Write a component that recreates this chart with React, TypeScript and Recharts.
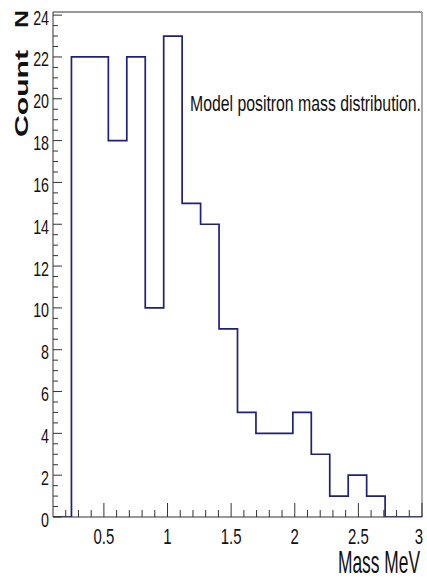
import React from "react";
import { LineChart, Line, XAxis, YAxis, ReferenceLine } from "recharts";

// Histogram binning: 20 equal bins between 0.1 and 3.0 MeV
const binEdges = [
  0.1, 0.245, 0.39, 0.535, 0.68, 0.825, 0.97, 1.115, 1.26, 1.405, 1.55,
  1.695, 1.84, 1.985, 2.13, 2.275, 2.42, 2.565, 2.71, 2.855, 3.0,
];
const binCounts = [0, 22, 22, 18, 22, 10, 23, 15, 14, 9, 5, 4, 4, 5, 3, 1, 2, 1, 0, 0];

const xMajorTicks = [0.5, 1, 1.5, 2, 2.5, 3];
const xMajorLabels = ["0.5", "1", "1.5", "2", "2.5", "3"];
const yMajorTicks = [0, 2, 4, 6, 8, 10, 12, 14, 16, 18, 20, 22, 24];
const yMajorLabels = ["0", "2", "4", "6", "8", "10", "12", "14", "16", "18", "20", "22", "24"];

const X_MIN = 0.1;
const X_MAX = 3;
const Y_MAX = 24.15;

const W = 427;
const H = 580;
const PLOT_LEFT = 53;
const PLOT_TOP = 12;
const PLOT_RIGHT = 422;
const PLOT_BOTTOM = 517;

const FONT = "'Liberation Sans', Arial, Helvetica, sans-serif";
const LINE_COLOR = "#1f1f7c";
const AXIS_COLOR = "#333";

// one point per bin edge; the last edge closes the outline at the final bin's level
const histData = binEdges.map((edge, i) => ({
  mass: edge,
  count: i < binCounts.length ? binCounts[i] : binCounts[binCounts.length - 1],
}));

// minor tick grids: every 0.1 on x, every 0.5 on y
const xMinorTicks: number[] = [];
for (let i = 2; i <= 30; i++) xMinorTicks.push(i / 10);
const yMinorTicks: number[] = [];
for (let i = 0; i <= 48; i++) yMinorTicks.push(i / 2);

const near = (a: number, b: number) => Math.abs(a - b) < 1e-6;

const XTick = (props: any) => {
  const { x, payload } = props;
  const v = payload.value as number;
  const idx = xMajorTicks.findIndex((t) => near(t, v));
  const major = idx >= 0;
  const last = idx === xMajorTicks.length - 1;
  return (
    <g>
      <line x1={x} x2={x} y1={PLOT_BOTTOM} y2={PLOT_BOTTOM - (major ? 14 : 7)} stroke={AXIS_COLOR} strokeWidth={1} />
      {major && (
        <text
          transform={`translate(${last ? x + 1 : x},544) scale(0.68,1)`}
          textAnchor={last ? "end" : "middle"}
          fontSize={22}
          fontFamily={FONT}
          fill="#111"
        >
          {xMajorLabels[idx]}
        </text>
      )}
    </g>
  );
};

const YTick = (props: any) => {
  const { y, payload } = props;
  const v = payload.value as number;
  const idx = yMajorTicks.findIndex((t) => near(t, v));
  const major = idx >= 0;
  return (
    <g>
      <line x1={PLOT_LEFT} x2={PLOT_LEFT + (major ? 9 : 5)} y1={y} y2={y} stroke={AXIS_COLOR} strokeWidth={1} />
      {major && (
        <text
          transform={`translate(49,${y + 9.5}) scale(0.68,1)`}
          textAnchor="end"
          fontSize={21}
          fontFamily={FONT}
          fill="#111"
        >
          {yMajorLabels[idx]}
        </text>
      )}
    </g>
  );
};

export default function App() {
  return (
    <div style={{ position: "absolute", left: 0, top: 0, width: W, height: H, background: "#fff" }}>
      <LineChart
        width={W}
        height={H}
        data={histData}
        margin={{ top: PLOT_TOP, right: W - PLOT_RIGHT, bottom: H - PLOT_BOTTOM - 30, left: PLOT_LEFT - 45 }}
      >
        <XAxis
          type="number"
          dataKey="mass"
          domain={[X_MIN, X_MAX]}
          allowDataOverflow
          ticks={xMinorTicks}
          interval={0}
          tick={XTick}
          tickLine={false}
          axisLine={{ stroke: AXIS_COLOR, strokeWidth: 1 }}
          height={30}
        />
        <YAxis
          type="number"
          domain={[0, Y_MAX]}
          allowDataOverflow
          ticks={yMinorTicks}
          interval={0}
          tick={YTick}
          tickLine={false}
          axisLine={{ stroke: AXIS_COLOR, strokeWidth: 1 }}
          width={45}
        />
        <ReferenceLine y={Y_MAX} stroke={AXIS_COLOR} strokeWidth={1} />
        <ReferenceLine x={X_MAX} stroke="#aaa" strokeWidth={2} />
        <Line
          type="stepAfter"
          dataKey="count"
          stroke={LINE_COLOR}
          strokeWidth={1.7}
          dot={false}
          activeDot={false}
          isAnimationActive={false}
        />
      </LineChart>
      <svg
        width={W}
        height={H}
        style={{ position: "absolute", left: 0, top: 0, pointerEvents: "none" }}
      >
        <text x={190} y={111} fontSize={22} fontFamily={FONT} fill="#111" textLength={231} lengthAdjust="spacingAndGlyphs">
          Model positron mass distribution.
        </text>
        <text x={338} y={573} fontSize={32} fontFamily={FONT} fill="#111" textLength={82} lengthAdjust="spacingAndGlyphs">
          Mass MeV
        </text>
        <text
          transform="translate(28,137) rotate(-90)"
          fontSize={18}
          fontWeight="bold"
          fontFamily={FONT}
          fill="#111"
          textLength={87}
          lengthAdjust="spacingAndGlyphs"
        >
          Count
        </text>
        <text
          transform="translate(28,28) rotate(-90)"
          fontSize={18}
          fontWeight="bold"
          fontFamily={FONT}
          fill="#111"
          textLength={18}
          lengthAdjust="spacingAndGlyphs"
        >
          N
        </text>
      </svg>
    </div>
  );
}
